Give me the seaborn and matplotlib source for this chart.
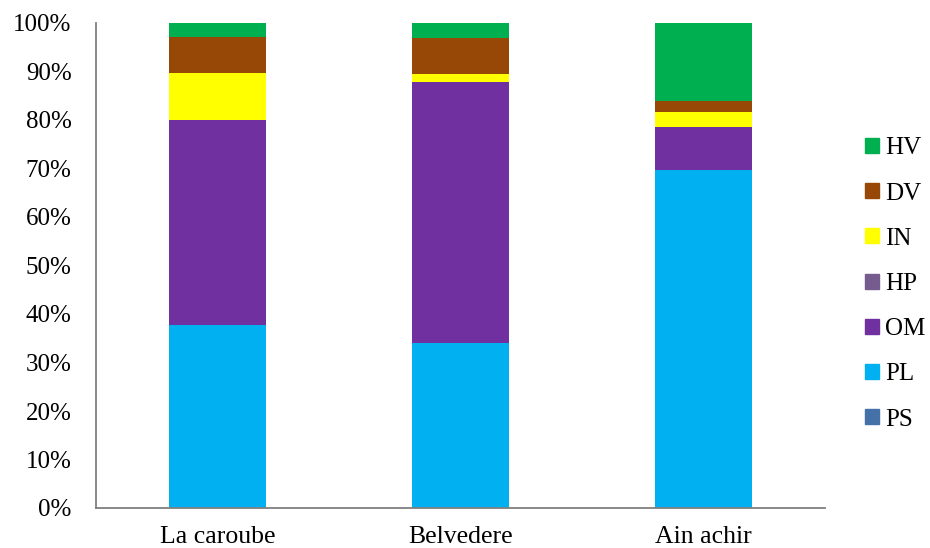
import matplotlib
matplotlib.use("Agg")
import matplotlib.pyplot as plt
import matplotlib.patches as mpatches
from matplotlib.ticker import PercentFormatter, FixedLocator, NullFormatter
import numpy as np
import pandas as pd
import seaborn as sns

sites = ["La caroube", "Belvedere", "Ain achir"]
groups = ["PS", "PL", "OM", "HP", "IN", "DV", "HV"]
PS = [0.0, 0.0, 0.0]
PL = [37.7, 34.0, 69.7]
OM = [42.3, 53.8, 8.9]
HP = [0.0, 0.0, 0.0]
IN = [9.75, 1.7, 3.1]
DV = [7.45, 7.5, 2.3]
HV = [2.8, 3.0, 16.0]
colors = {"PS": "#4472a8", "PL": "#00b0f0", "OM": "#7030a0", "HP": "#765b8f",
          "IN": "#ffff00", "DV": "#974706", "HV": "#00b050"}

values = {"PS": PS, "PL": PL, "OM": OM, "HP": HP, "IN": IN, "DV": DV, "HV": HV}
df = pd.DataFrame({"site": [s for g in groups for s in sites],
                   "group": [g for g in groups for _ in sites],
                   "value": [v for g in groups for v in values[g]]})

sns.set_style("white")
plt.rcParams["font.family"] = ["Liberation Serif", "DejaVu Serif"]
plt.rcParams["text.color"] = "black"
plt.rcParams["xtick.color"] = "black"
plt.rcParams["ytick.color"] = "black"

fig = plt.figure(figsize=(9.3, 5.48), dpi=100)
ax = fig.add_axes([96 / 930, 1 - 508 / 548, (825 - 96) / 930, (508 - 23) / 548])

bottom = np.zeros(len(sites))
for g in groups:
    sub = df[df["group"] == g]
    sns.barplot(data=sub, x="site", y="value", color=colors[g], width=0.4,
                bottom=bottom, ax=ax, order=sites, saturation=1,
                edgecolor="none", linewidth=0, errorbar=None)
    bottom = bottom + sub["value"].to_numpy()

ax.set_xlim(-0.5, 2.5)
ax.set_ylim(0, 100)
ax.yaxis.set_major_locator(FixedLocator(np.arange(0, 101, 10)))
ax.yaxis.set_major_formatter(PercentFormatter(decimals=0))
ax.set_xlabel("")
ax.set_ylabel("")

axis_grey = "#7f7f7f"
for side in ["top", "right"]:
    ax.spines[side].set_visible(False)
for side in ["left", "bottom"]:
    ax.spines[side].set_color(axis_grey)
    ax.spines[side].set_linewidth(1.3)

# category labels at bar centres, tick marks at category boundaries
ax.set_xticks([0, 1, 2])
ax.set_xticklabels(sites, fontsize=18.5)
ax.tick_params(axis="x", which="major", length=0, pad=13, labelcolor="black")
ax.xaxis.set_minor_locator(FixedLocator([-0.5, 0.5, 1.5, 2.5]))
ax.xaxis.set_minor_formatter(NullFormatter())
ax.tick_params(axis="x", which="minor", length=7, color=axis_grey, width=1.3, direction="out")
ax.tick_params(axis="y", length=7, color=axis_grey, width=1.3, direction="out",
               labelsize=18, pad=10.5, labelcolor="black")
ax.grid(False)

handles = [mpatches.Patch(color=colors[g], label=g) for g in reversed(groups)]
leg = fig.legend(handles=handles, loc="center left", bbox_to_anchor=(865 / 930, 1 - 284 / 548),
                 frameon=False, fontsize=18, handlelength=0.55, handleheight=0.55,
                 handletextpad=0.25, labelspacing=0.93, borderpad=0, borderaxespad=0)

fig.savefig("out.png", dpi=100)
